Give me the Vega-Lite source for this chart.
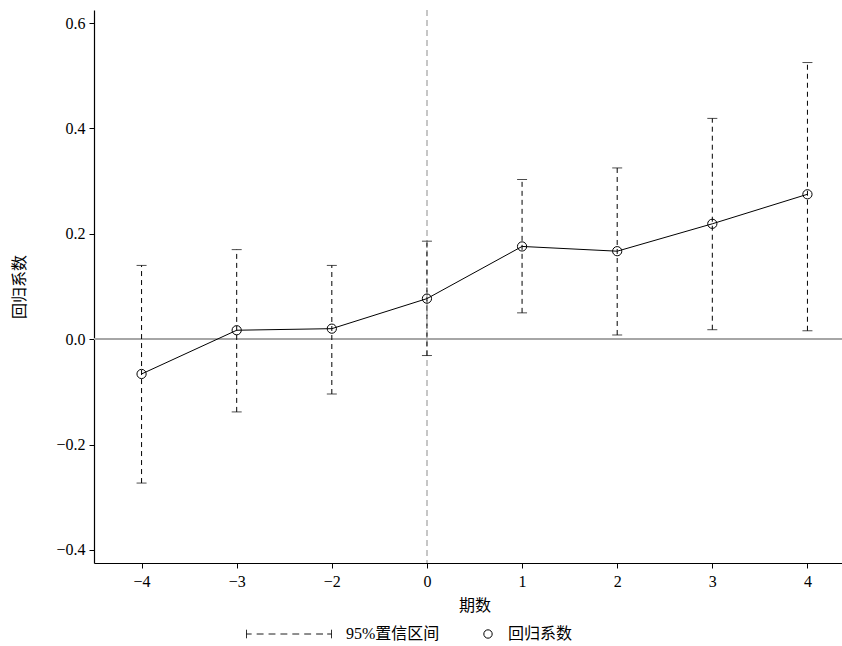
{
  "$schema": "https://vega.github.io/schema/vega-lite/v6.json",
  "width": 761,
  "height": 553,
  "autosize": "none",
  "padding": {"left": 94, "top": 10, "right": 0, "bottom": 83},
  "background": "white",
  "config": {
    "font": "Liberation Serif, Times New Roman, serif",
    "view": {"stroke": null},
    "axis": {
      "grid": false,
      "domainColor": "black",
      "domainWidth": 1.2,
      "tickColor": "black",
      "tickSize": 5,
      "labelFont": "Liberation Serif, Times New Roman, serif",
      "labelFontSize": 16,
      "labelColor": "black",
      "titleFont": "Noto Sans CJK SC",
      "titleFontSize": 16,
      "titleFontWeight": "normal",
      "titleColor": "black"
    },
    "legend": {
      "labelFont": "Liberation Serif, Times New Roman, Noto Sans CJK SC, serif",
      "labelFontSize": 16,
      "labelColor": "black",
      "padding": 0
    }
  },
  "data": {
    "values": [
      {"period": "−4", "n": -4, "coef": -0.066, "lower": -0.273, "upper": 0.140},
      {"period": "−3", "n": -3, "coef": 0.017, "lower": -0.138, "upper": 0.170},
      {"period": "−2", "n": -2, "coef": 0.020, "lower": -0.104, "upper": 0.140},
      {"period": "0", "n": 0, "coef": 0.077, "lower": -0.031, "upper": 0.186},
      {"period": "1", "n": 1, "coef": 0.176, "lower": 0.050, "upper": 0.303},
      {"period": "2", "n": 2, "coef": 0.167, "lower": 0.008, "upper": 0.325},
      {"period": "3", "n": 3, "coef": 0.219, "lower": 0.018, "upper": 0.419},
      {"period": "4", "n": 4, "coef": 0.275, "lower": 0.016, "upper": 0.525}
    ]
  },
  "layer": [
    {
      "mark": {"type": "rule", "color": "#c6c6c6", "strokeDash": [6, 4], "strokeWidth": 1},
      "encoding": {
        "x": {"datum": "0", "type": "ordinal",
          "scale": {"type": "point", "padding": 0.5, "domain": ["−4", "−3", "−2", "0", "1", "2", "3", "4"]},
          "axis": {"title": "期数", "labelAngle": 0, "labelPadding": 5, "titlePadding": 8}}
      }
    },
    {
      "mark": {"type": "rule", "color": "#a6a6a6", "strokeWidth": 1.5},
      "encoding": {
        "y": {"datum": 0, "type": "quantitative",
          "scale": {"domain": [-0.4247, 0.6247], "nice": false, "zero": false},
          "axis": {"title": "回归系数", "values": [-0.4, -0.2, 0, 0.2, 0.4, 0.6], "format": ".1f", "labelPadding": 4, "titlePadding": 28}}
      }
    },
    {
      "mark": {"type": "rule", "strokeDash": [5, 4], "strokeWidth": 1},
      "encoding": {
        "x": {"field": "period", "type": "ordinal"},
        "y": {"field": "lower", "type": "quantitative"},
        "y2": {"field": "upper"},
        "color": {"datum": "95%置信区间", "type": "nominal", "scale": {"range": ["black"]},
          "legend": {
            "title": null,
            "orient": "none",
            "legendX": 152,
            "legendY": 581,
            "symbolType": "M-1,-0.1L-1,0.1M-1,0L-0.88,0M-0.76,0L-0.6,0M-0.48,0L-0.32,0M-0.2,0L-0.04,0M0.08,0L0.24,0M0.36,0L0.52,0M0.64,0L0.8,0M0.9,0L1,0M1,-0.1L1,0.1",
            "symbolSize": 7225,
            "symbolStrokeWidth": 1,
            "symbolStrokeColor": "black",
            "symbolDash": [1, 0],
            "labelOffset": 14
          }}
      }
    },
    {
      "mark": {"type": "tick", "color": "black", "size": 10, "thickness": 1},
      "encoding": {
        "x": {"field": "period", "type": "ordinal"},
        "y": {"field": "upper", "type": "quantitative"}
      }
    },
    {
      "mark": {"type": "tick", "color": "black", "size": 10, "thickness": 1},
      "encoding": {
        "x": {"field": "period", "type": "ordinal"},
        "y": {"field": "lower", "type": "quantitative"}
      }
    },
    {
      "mark": {"type": "line", "color": "black", "strokeWidth": 1},
      "encoding": {
        "x": {"field": "period", "type": "ordinal"},
        "y": {"field": "coef", "type": "quantitative"},
        "order": {"field": "n", "type": "quantitative"}
      }
    },
    {
      "mark": {"type": "point", "filled": false, "color": "black", "strokeWidth": 1, "size": 85, "opacity": 1},
      "encoding": {
        "x": {"field": "period", "type": "ordinal"},
        "y": {"field": "coef", "type": "quantitative"},
        "shape": {"datum": "回归系数", "type": "nominal", "scale": {"range": ["circle"]},
          "legend": {
            "title": null,
            "orient": "none",
            "legendX": 386,
            "legendY": 616,
            "symbolSize": 70,
            "symbolStrokeColor": "black",
            "symbolFillColor": "transparent",
            "symbolStrokeWidth": 1,
            "labelOffset": 12
          }}
      }
    }
  ]
}
